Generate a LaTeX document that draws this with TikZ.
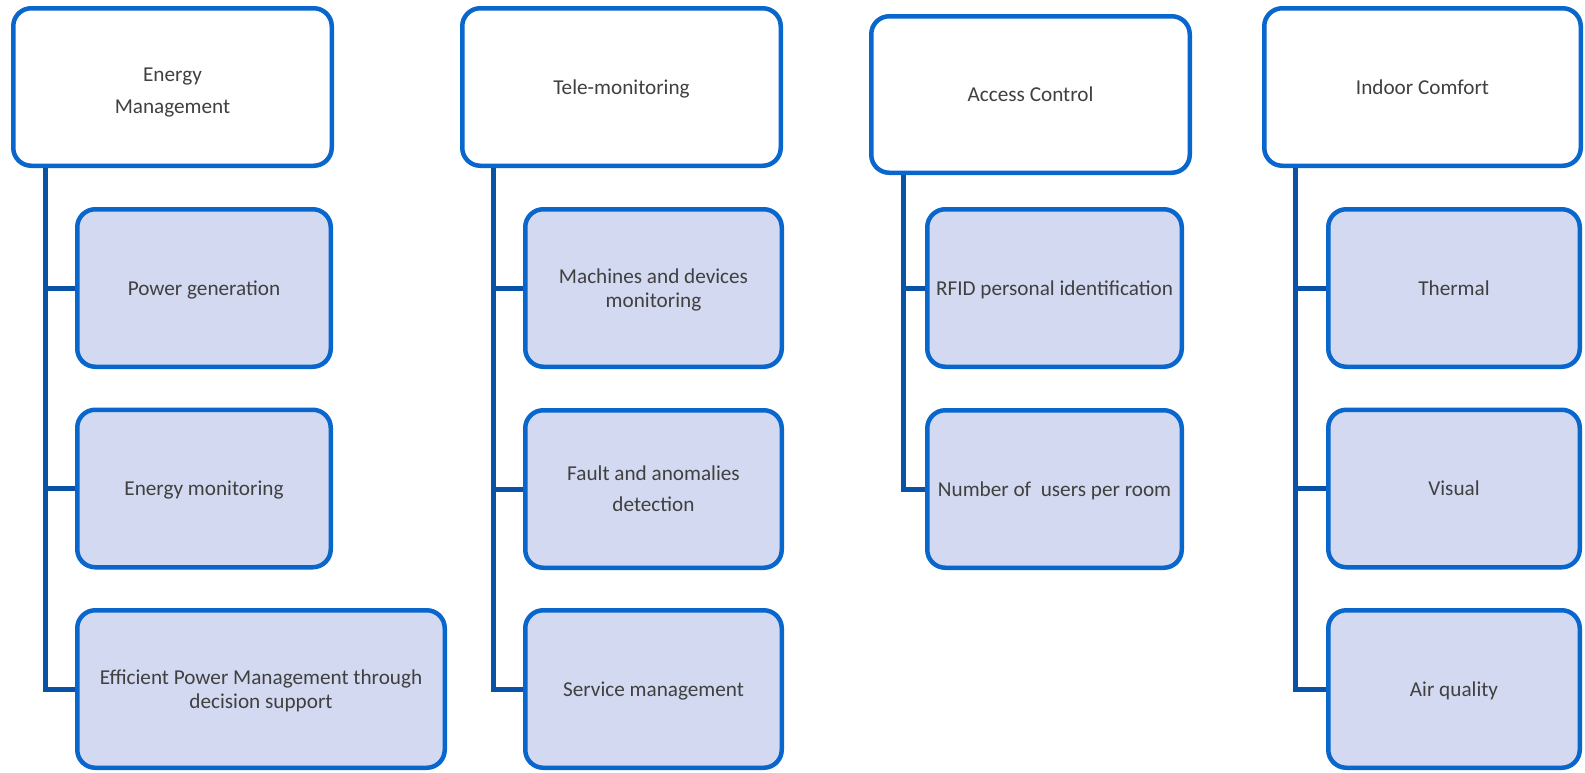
\documentclass[tikz,border=0pt]{standalone}
\usepackage{fontspec}
\setmainfont{Carlito}
\usetikzlibrary{backgrounds}
\definecolor{bordblue}{HTML}{0866CC}
\definecolor{connblue}{HTML}{0A52A6}
\definecolor{boxfill}{HTML}{D3D9F0}
\definecolor{txtgray}{HTML}{404040}
\tikzset{
  basebox/.style={draw=bordblue, line width=2.25pt, rounded corners=9pt,
    align=center, text=txtgray, inner sep=0pt, text depth=0pt,
    font=\fontsize{10.6}{12}\selectfont},
  headbox/.style={basebox, fill=white, minimum width=159.25pt, minimum height=78.75pt},
  childbox/.style={basebox, fill=boxfill, minimum height=78.75pt},
  conn/.style={draw=connblue, line width=2.5pt}
}
\begin{document}
\begin{tikzpicture}[x=0.5pt, y=-0.5pt]
\useasboundingbox (0,0) rectangle (1585,772);
% headers
\node[headbox] (h1) at (172.5,87) {\rule{0pt}{10.5pt}Energy\\[4pt]Management};
\node[headbox] (h2) at (621.5,87) {Tele-monitoring};
\node[headbox, minimum height=78.25pt] (h3) at (1030.5,94.5) {Access Control};
\node[headbox, minimum width=158.25pt] (h4) at (1422.5,87) {Indoor Comfort};
% column 1
\node[childbox, minimum width=126.75pt] (c11) at (204,288) {Power generation};
\node[childbox, minimum width=126.75pt] (c12) at (204,488.5) {Energy monitoring};
\node[childbox, minimum width=183.75pt] (c13) at (261,689) {Efficient Power Management through\\decision support};
% column 2
\node[childbox, minimum width=128.25pt] (c21) at (653.5,288) {Machines and devices\\monitoring};
\node[childbox, minimum width=128.25pt] (c22) at (653.5,489) {Fault and anomalies\\[3.5pt]detection};
\node[childbox, minimum width=128.25pt] (c23) at (653.5,689) {Service management};
% column 3
\node[childbox, minimum width=127.25pt] (c31) at (1054.5,288) {RFID personal identification};
\node[childbox, minimum width=127.25pt] (c32) at (1054.5,489) {Number of \ users per room};
% column 4
\node[childbox, minimum width=125.75pt] (c41) at (1454,288) {Thermal};
\node[childbox, minimum width=125.75pt] (c42) at (1454,488.5) {Visual};
\node[childbox, minimum width=125.75pt] (c43) at (1454,689) {Air quality};
% connector coordinates
\coordinate (x1) at (45,0);
\coordinate (x2) at (493,0);
\coordinate (x3) at (903,0);
\coordinate (x4) at (1295,0);
\coordinate (v1) at (h1.south -| x1);
\coordinate (v2) at (h2.south -| x2);
\coordinate (v3) at (h3.south -| x3);
\coordinate (v4) at (h4.south -| x4);
\begin{scope}[on background layer]
\draw[conn] (v1) |- (c13.west);
\draw[conn] (c11.west) -- (c11.west -| v1);
\draw[conn] (c12.west) -- (c12.west -| v1);
\draw[conn] (v2) |- (c23.west);
\draw[conn] (c21.west) -- (c21.west -| v2);
\draw[conn] (c22.west) -- (c22.west -| v2);
\draw[conn] (v3) |- (c32.west);
\draw[conn] (c31.west) -- (c31.west -| v3);
\draw[conn] (v4) |- (c43.west);
\draw[conn] (c41.west) -- (c41.west -| v4);
\draw[conn] (c42.west) -- (c42.west -| v4);
\end{scope}
\end{tikzpicture}
\end{document}
